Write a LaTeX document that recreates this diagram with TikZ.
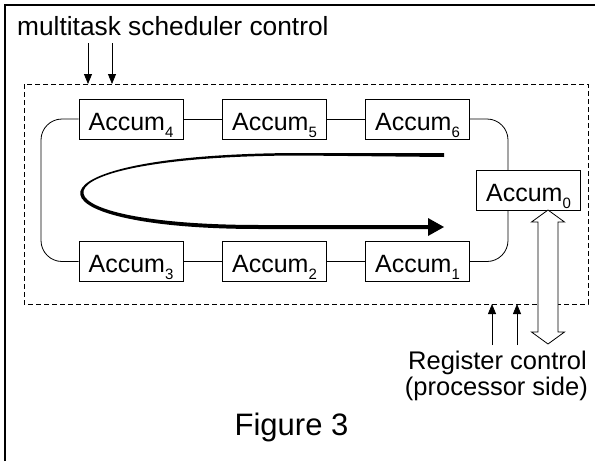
\documentclass[tikz,border=0pt]{standalone}
\usepackage{fontspec}
\setmainfont{Liberation Sans}
\usetikzlibrary{arrows.meta,calc}
\newcommand\accsub[1]{\raisebox{-7pt}{\fontsize{15}{15}\selectfont #1}}
\begin{document}
\begin{tikzpicture}[x=1pt,y=-1pt,
  accbox/.style={draw, line width=0.8pt, minimum width=104pt, minimum height=40pt,
    inner sep=0pt, text height=22pt, text depth=0pt, font=\fontsize{25}{26}\selectfont},
  link/.style={line width=0.8pt},
  loopline/.style={line width=0.8pt, rounded corners=21pt},
  ctrl/.style={line width=0.8pt, -{Triangle[length=10pt,width=8pt]}},
  lbl/.style={inner sep=0pt, font=\fontsize{25.5}{26}\selectfont}]
\useasboundingbox (0,0) rectangle (595,461);
% outer frame (only left and top visible)
\draw[line width=2pt] (5,461) -- (5,5) -- (595,5);
% dashed region
\draw[line width=0.8pt, dash pattern=on 5pt off 3pt] (24,84) rectangle (588,304);
% boxes
\node[accbox] (A4) at (131,119) {Accum\accsub{4}};
\node[accbox] (A5) at (274.5,119) {Accum\accsub{5}};
\node[accbox] (A6) at (417.5,119) {Accum\accsub{6}};
\node[accbox] (A3) at (131,261.5) {Accum\accsub{3}};
\node[accbox] (A2) at (274.5,261.5) {Accum\accsub{2}};
\node[accbox] (A1) at (417.5,261.5) {Accum\accsub{1}};
\node[accbox] (A0) at (528.5,190.5) {Accum\accsub{0}};
% links
\draw[link] (A4) -- (A5);
\draw[link] (A5) -- (A6);
\draw[link] (A3) -- (A2);
\draw[link] (A2) -- (A1);
\coordinate (lc) at (41,190);
\coordinate (rc) at (508,190);
\draw[loopline] (A4.west) -| (lc) |- (A3.west);
\draw[loopline] (A6.east) -| (rc |- A0.north);
\draw[loopline] (rc |- A0.south) |- (A1.east);
% big U arrow (tapered stroke)
\coordinate (us) at (444,155);
\coordinate (ue) at (444,227);
\coordinate (ub) at (428,227);
\fill (444,153) -- (300,153) .. controls (14,153.5) and (14,229) .. (260,229) -- (429,229)
  -- (429,225) -- (260,225) .. controls (18.5,225) and (18,156) .. (300,155.5) -- (444,157) -- cycle;
\fill (ue) -- ($(ub)+(0,-9)$) -- ($(ub)+(0,9)$) -- cycle;
% scheduler control
\node[lbl, font=\fontsize{26.3}{27}\selectfont, anchor=base west] (msc) at (17,35) {multitask scheduler control};
\coordinate (t1s) at (88,43);
\coordinate (t2s) at (112,43);
\draw[ctrl] (t1s) -- (88,84);
\draw[ctrl] (t2s) -- (112,84);
% register control
\coordinate (b1s) at (492,345);
\coordinate (b2s) at (517,345);
\draw[ctrl] (b1s) -- (492,304);
\draw[ctrl] (b2s) -- (517,304);
\node[lbl, anchor=base east] (reg1) at (587,369) {Register control};
\node[lbl, anchor=base east] (reg2) at (588,395) {(processor side)};
% double hollow arrow
\draw[line width=0.8pt, fill=white]
  (548,210) -- (564.5,222) -- (558,222) -- (558,332) -- (564.5,332) -- (548,344)
  -- (531.5,332) -- (538,332) -- (538,222) -- (531.5,222) -- cycle;
% caption
\node[inner sep=0pt, anchor=base, font=\fontsize{31}{33}\selectfont] (fig) at (291.5,435) {Figure 3};
\end{tikzpicture}
\end{document}
